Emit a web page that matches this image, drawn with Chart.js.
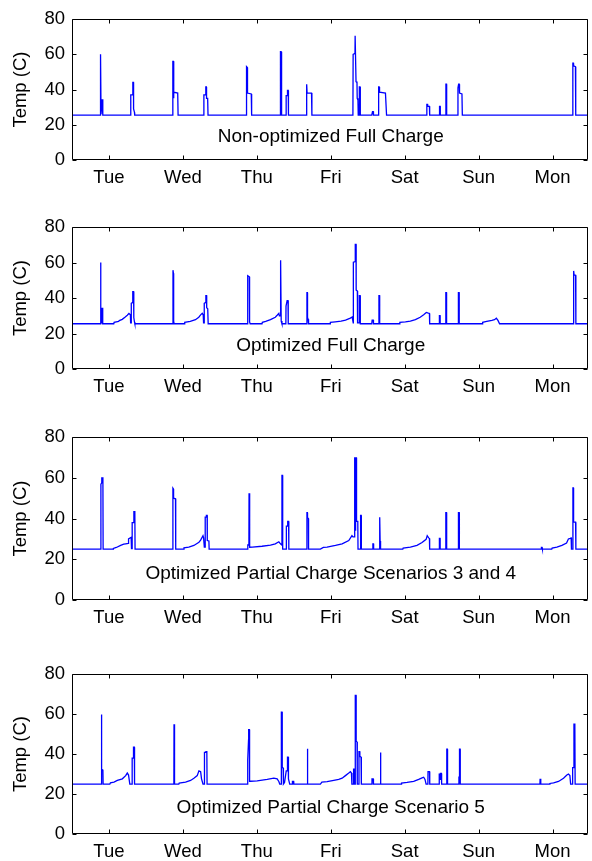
<!DOCTYPE html>
<html>
<head>
<meta charset="utf-8">
<script src="https://cdn.jsdelivr.net/npm/chart.js@4.4.1/dist/chart.umd.min.js"></script>
<style>
  html, body { margin: 0; padding: 0; background: #fff; overflow: hidden; }
  #wrap { position: relative; width: 592px; height: 861px; }
  canvas { position: absolute; left: 0; }
</style>
</head>
<body>
<div id="wrap">
  <canvas id="c1" width="592" height="204" style="top:1px"></canvas>
  <canvas id="c2" width="592" height="205" style="top:209px"></canvas>
  <canvas id="c3" width="592" height="226" style="top:419px"></canvas>
  <canvas id="c4" width="592" height="223" style="top:656px"></canvas>
</div>
<script>
const dayNames = ['Tue', 'Wed', 'Thu', 'Fri', 'Sat', 'Sun', 'Mon']
const dayTicks = [1, 2, 3, 4, 5, 6, 7]
const tempTicks = [0, 20, 40, 60, 80]
const captions = [
    'Non-optimized Full Charge',
    'Optimized Full Charge',
    'Optimized Partial Charge Scenarios 3 and 4',
    'Optimized Partial Charge Scenario 5'
]

// [day, temp C]
const nonOptFull = [
    [0.5, 25.5],
    [0.884, 25.5], [0.886, 60], [0.893, 26], [0.905, 26], [0.906, 34.5], [0.915, 34.5], [0.918, 25.5],
    [1.29, 25.5], [1.295, 37], [1.322, 37], [1.323, 44], [1.332, 44], [1.333, 29], [1.345, 27], [1.348, 25.5],
    [1.862, 25.5], [1.864, 56], [1.872, 56], [1.874, 35], [1.878, 38.5], [1.93, 38], [1.935, 25.5],
    [2.28, 25.5], [2.284, 37], [2.305, 37], [2.31, 41.5], [2.318, 41.5], [2.32, 35], [2.335, 35], [2.34, 25.5],
    [2.858, 25.5], [2.861, 53], [2.872, 52.5], [2.874, 38], [2.925, 37.5], [2.93, 25.5],
    [3.318, 25.5], [3.32, 61.5], [3.328, 61.5], [3.33, 27], [3.34, 25.5], [3.395, 25.5], [3.397, 36.5], [3.412, 36.5], [3.415, 39.5], [3.425, 39.5], [3.428, 25.5],
    [3.668, 25.5], [3.671, 43], [3.678, 43], [3.68, 38], [3.74, 38], [3.745, 25.5],
    [4.3, 25.5], [4.303, 60], [4.328, 60.5], [4.33, 70.5], [4.338, 70.5], [4.342, 44.5], [4.355, 44], [4.358, 35], [4.368, 34], [4.372, 25.5],
    [4.385, 25.5], [4.387, 41.5], [4.396, 41.5], [4.4, 25.5],
    [4.555, 25.5], [4.565, 27.5], [4.575, 27.5], [4.578, 25.5],
    [4.645, 25.5], [4.648, 41.5], [4.655, 41.5], [4.66, 38.5], [4.74, 38], [4.755, 25.5],
    [5.298, 25.5], [5.3, 31.5], [5.31, 31.5], [5.312, 30.5], [5.335, 30.5], [5.338, 25.5],
    [5.47, 25.5], [5.472, 30.5], [5.48, 30.5], [5.482, 25.5],
    [5.556, 25.5], [5.558, 43], [5.566, 43], [5.568, 25.5],
    [5.718, 25.5], [5.721, 41], [5.73, 43], [5.738, 43], [5.742, 38], [5.775, 37.5], [5.78, 25.5],
    [7.272, 25.5], [7.275, 55], [7.283, 55], [7.285, 53.5], [7.31, 53], [7.314, 25.5],
    [7.48, 25.5]
]

const optFull = [
    [0.5, 25.5],
    [0.884, 25.5], [0.886, 60], [0.892, 26], [0.904, 26], [0.906, 34.5], [0.914, 34.5], [0.917, 25.5],
    [1.065, 25.5], [1.07, 26.3], [1.13, 26.8], [1.14, 27.3], [1.18, 28], [1.22, 29.3], [1.248, 30.3], [1.27, 31.3], [1.29, 30.5], [1.293, 26], [1.3, 26],
    [1.302, 37], [1.32, 37.5], [1.322, 43.6], [1.333, 43.6], [1.336, 29], [1.345, 26.5], [1.35, 25.5],
    [1.864, 25.5], [1.866, 55.7], [1.872, 54], [1.875, 27], [1.882, 25.5],
    [2.02, 25.5], [2.025, 26.3], [2.1, 26.8], [2.17, 27.8], [2.215, 29.2], [2.24, 30.5], [2.262, 31.4], [2.275, 30.5], [2.28, 26], [2.286, 26],
    [2.289, 37], [2.308, 37.5], [2.311, 41.4], [2.32, 41.4], [2.322, 34.5], [2.336, 34], [2.342, 25.5],
    [2.874, 25.5], [2.877, 52.6], [2.899, 52], [2.902, 26.5], [2.91, 25.5],
    [3.07, 25.5], [3.075, 26.3], [3.12, 26.8], [3.185, 27.8], [3.25, 29.2], [3.275, 30.3], [3.298, 31.4], [3.305, 30], [3.315, 30],
    [3.318, 61.3], [3.326, 61.3], [3.33, 27], [3.34, 25.5], [3.393, 25.5], [3.395, 35.5], [3.408, 35.5], [3.41, 38.5], [3.422, 38.5], [3.425, 25.5],
    [3.675, 25.5], [3.678, 43], [3.684, 43], [3.686, 29], [3.695, 28], [3.7, 25.5],
    [3.99, 25.5], [3.995, 26.3], [4.06, 26.6], [4.14, 27], [4.2, 27.6], [4.265, 28.7], [4.29, 29.3], [4.3, 29.3], [4.304, 26],
    [4.306, 60.2], [4.33, 60.5], [4.332, 70.3], [4.342, 70.3], [4.344, 44.5], [4.36, 44], [4.363, 26], [4.385, 26],
    [4.387, 41.4], [4.396, 41.4], [4.4, 25.5],
    [4.555, 25.5], [4.56, 27.6], [4.575, 27.6], [4.578, 25.5],
    [4.65, 25.5], [4.652, 41.4], [4.66, 41.4], [4.662, 25.5],
    [4.93, 25.5], [4.935, 26.3], [5.01, 26.6], [5.077, 27], [5.145, 27.8], [5.21, 29.2], [5.257, 30.6], [5.293, 31.9], [5.32, 31.5], [5.335, 31.3], [5.338, 25.5],
    [5.468, 25.5], [5.47, 30.1], [5.478, 30.1], [5.48, 25.5],
    [5.555, 25.5], [5.557, 43.1], [5.565, 43.1], [5.567, 25.5],
    [5.724, 25.5], [5.727, 43.1], [5.736, 43.1], [5.738, 25.5],
    [6.05, 25.5], [6.055, 26.3], [6.11, 26.8], [6.18, 27.4], [6.215, 27.8], [6.24, 28.6], [6.262, 27.4], [6.284, 25.5],
    [7.279, 25.5], [7.282, 55.3], [7.29, 55.3], [7.292, 53], [7.312, 52.8], [7.316, 25.5],
    [7.48, 25.5]
]

const optPartial34 = [
    [0.5, 25],
    [0.888, 25], [0.891, 56.8], [0.9, 57.5], [0.903, 60], [0.918, 60], [0.921, 25],
    [1.058, 25], [1.06, 25.3], [1.1, 25.8], [1.158, 26.8], [1.2, 27.4], [1.226, 27.6], [1.262, 27.8], [1.265, 30], [1.3, 30.8], [1.305, 25.2], [1.312, 25.2],
    [1.314, 38], [1.335, 38], [1.337, 43.4], [1.35, 43.4], [1.353, 25],
    [1.862, 25], [1.865, 54.9], [1.872, 54.5], [1.874, 50], [1.9, 49.7], [1.903, 25],
    [2.012, 25], [2.015, 25.6], [2.08, 26], [2.149, 26.8], [2.217, 28.4], [2.24, 29.4], [2.272, 31.6], [2.28, 30.5], [2.29, 26], [2.3, 26],
    [2.302, 40.7], [2.315, 40.7], [2.318, 41.5], [2.328, 41.5], [2.33, 29.2], [2.352, 29], [2.355, 25],
    [2.875, 25], [2.878, 27], [2.893, 27], [2.895, 52.4], [2.902, 52.4], [2.904, 25.9],
    [2.94, 26], [3.07, 26.4], [3.185, 26.9], [3.25, 27.6], [3.298, 28.6], [3.32, 27.6], [3.338, 27],
    [3.34, 61.2], [3.348, 61.2], [3.35, 25], [3.398, 25], [3.4, 36.3], [3.415, 36.3], [3.418, 38.6], [3.43, 38.6], [3.433, 25],
    [3.675, 25], [3.678, 42.9], [3.684, 42.9], [3.686, 40.5], [3.697, 40], [3.7, 25],
    [3.86, 25], [3.9, 25.8], [3.95, 26], [4.064, 26.8], [4.154, 27.6], [4.244, 29.2], [4.287, 31.6], [4.3, 31], [4.322, 31],
    [4.324, 69.8], [4.33, 69.8], [4.332, 34], [4.337, 34], [4.339, 69.8], [4.347, 69.8], [4.349, 38.6], [4.366, 38.6], [4.369, 25],
    [4.402, 25], [4.404, 41.5], [4.412, 41.5], [4.414, 25],
    [4.568, 25], [4.57, 27.6], [4.578, 27.6], [4.58, 25],
    [4.657, 25], [4.659, 40.6], [4.666, 40.6], [4.668, 29], [4.673, 28.5], [4.675, 25],
    [4.975, 25], [4.98, 25.5], [5.077, 26], [5.167, 26.8], [5.235, 28.2], [5.29, 29.8], [5.305, 31.6], [5.325, 30.5], [5.335, 30.2], [5.338, 25],
    [5.468, 25], [5.47, 30.3], [5.478, 30.3], [5.48, 25],
    [5.555, 25], [5.557, 42.9], [5.566, 42.9], [5.568, 25],
    [5.722, 25], [5.725, 26.5], [5.728, 26.5], [5.73, 42.9], [5.738, 42.9], [5.74, 25],
    [6.845, 25], [6.85, 25.8], [6.858, 25.8], [6.863, 25],
    [6.99, 25], [6.995, 25.5], [7.059, 26], [7.127, 26.8], [7.19, 28], [7.215, 30], [7.24, 30.3], [7.252, 30.5], [7.256, 25], [7.274, 25],
    [7.276, 55], [7.283, 55], [7.285, 38.2], [7.312, 38.2], [7.316, 25],
    [7.48, 25]
]

const optPartial5 = [
    [0.5, 25],
    [0.893, 25], [0.895, 59.8], [0.902, 59.8], [0.904, 32.4], [0.918, 32], [0.921, 25],
    [1.012, 25], [1.02, 25.6], [1.068, 26], [1.113, 26.8], [1.181, 27.6], [1.226, 29.2], [1.248, 30.5], [1.265, 29.5], [1.282, 25], [1.312, 25],
    [1.314, 38], [1.33, 38], [1.332, 43.4], [1.343, 43.4], [1.346, 25],
    [1.878, 25], [1.88, 54.9], [1.886, 54.9], [1.888, 25],
    [1.945, 25], [1.95, 25.5], [2.036, 26], [2.104, 26.8], [2.149, 27.9], [2.194, 29.2], [2.217, 31.6], [2.24, 31.2], [2.252, 27.6], [2.272, 25], [2.29, 25],
    [2.292, 40.8], [2.31, 40.8], [2.312, 41.2], [2.324, 41.2], [2.327, 25],
    [2.875, 25], [2.877, 37], [2.888, 46.9], [2.89, 52.2], [2.9, 52.2], [2.902, 26.4],
    [2.915, 26.4], [3.005, 26.6], [3.14, 27.3], [3.23, 27.9], [3.275, 27.6], [3.298, 26.3], [3.31, 25], [3.33, 25],
    [3.332, 61], [3.341, 61], [3.344, 33.2], [3.356, 33], [3.36, 25], [3.375, 25.8], [3.398, 31.6], [3.413, 31.6], [3.415, 38.5], [3.424, 38.5], [3.428, 27.6], [3.445, 25],
    [3.48, 25], [3.482, 26.3], [3.498, 26.3], [3.5, 25],
    [3.68, 25], [3.682, 42.7], [3.688, 42.7], [3.69, 25],
    [3.86, 25], [3.88, 26], [3.951, 26.2], [4.041, 26.8], [4.108, 27.3], [4.154, 27.9], [4.199, 29.2], [4.244, 30.5], [4.266, 31.2], [4.28, 30.5], [4.286, 25], [4.307, 25],
    [4.309, 32.4], [4.316, 32.4], [4.318, 25], [4.33, 25], [4.332, 69.4], [4.342, 69.4], [4.344, 46.4], [4.356, 46], [4.359, 25], [4.38, 25],
    [4.382, 41.2], [4.392, 41.2], [4.394, 38.8], [4.41, 38.5], [4.414, 25],
    [4.556, 25], [4.558, 27.6], [4.574, 27.6], [4.578, 25],
    [4.668, 25], [4.67, 40.8], [4.677, 40.8], [4.679, 25],
    [4.953, 25], [4.958, 25.5], [5.032, 25.8], [5.122, 26.3], [5.19, 27.3], [5.235, 28.1], [5.257, 28.4], [5.275, 27.3], [5.29, 25], [5.314, 25],
    [5.316, 31.2], [5.336, 31.2], [5.339, 25],
    [5.466, 25], [5.468, 30], [5.478, 30], [5.48, 27], [5.485, 27], [5.487, 30.3], [5.497, 30.3], [5.5, 25],
    [5.568, 25], [5.57, 42.4], [5.578, 42.4], [5.58, 25],
    [5.732, 25], [5.734, 28.4], [5.74, 28.4], [5.742, 42.4], [5.75, 42.4], [5.752, 25],
    [6.83, 25], [6.832, 27.6], [6.84, 27.6], [6.842, 25],
    [6.958, 25], [6.965, 25.3], [7.014, 25.6], [7.081, 26.3], [7.149, 27.9], [7.194, 29.5], [7.216, 30], [7.235, 29.3], [7.245, 25], [7.27, 25],
    [7.272, 33.2], [7.288, 33.2], [7.29, 54.9], [7.302, 54.9], [7.306, 25],
    [7.48, 25]
]

const fontFamily = '"Liberation Sans", Arial, Helvetica, sans-serif'
Chart.defaults.font.family = fontFamily
Chart.defaults.font.size = 18.5
Chart.defaults.color = '#000'

// matlab style frame: box all round, short ticks pointing in, caption inside the axes
const matlabBox = {
    id: 'matlabBox',
    afterDatasetsDraw(chart, args, opts) {
        const {ctx, chartArea: a, scales: {x, y}} = chart
        const L = Math.round(a.left) + 0.5
        const R = Math.round(a.right) - 0.5
        const T = Math.round(a.top) + 0.5
        const B = Math.round(a.bottom) - 0.5
        const tl = 4
        ctx.save()
        ctx.strokeStyle = '#000'
        ctx.lineWidth = 1
        ctx.beginPath()
        ctx.rect(L, T, R - L, B - T)
        dayTicks.forEach(v => {
            const px = Math.round(x.getPixelForValue(v)) + 0.5
            ctx.moveTo(px, B); ctx.lineTo(px, B - tl)
            ctx.moveTo(px, T); ctx.lineTo(px, T + tl)
        })
        tempTicks.forEach(v => {
            const py = Math.round(y.getPixelForValue(v)) + 0.5
            ctx.moveTo(L, py); ctx.lineTo(L + tl, py)
            ctx.moveTo(R, py); ctx.lineTo(R - tl, py)
        })
        ctx.stroke()

        ctx.fillStyle = '#000'
        ctx.font = '19px ' + fontFamily
        ctx.textAlign = 'center'
        ctx.textBaseline = 'middle'
        ctx.fillText(opts.caption, x.getPixelForValue(opts.at[0]), y.getPixelForValue(opts.at[1]))
        ctx.restore()
    }
}

function makeChart(id, series, caption) {
    return new Chart(document.getElementById(id), {
        type: 'line',
        data: {
            datasets: [{
                data: series.map(p => ({x: p[0], y: p[1]})),
                borderColor: '#0000ff',
                borderWidth: 1.3,
                pointRadius: 0,
                tension: 0,
                fill: false,
            }]
        },
        options: {
            responsive: false,
            animation: false,
            events: [],
            layout: {
                padding: {top: 12, right: 4, left: 0, bottom: 0}
            },
            plugins: {
                legend: {display: false},
                tooltip: {enabled: false},
                matlabBox: {caption: caption, at: [4.0, 13]},
            },
            scales: {
                x: {
                    type: 'linear',
                    min: 0.5,
                    max: 7.48,
                    afterBuildTicks: s => { s.ticks = dayTicks.map(v => ({value: v})) },
                    afterFit: s => { s.height = 45 },
                    ticks: {
                        autoSkip: false,
                        maxRotation: 0,
                        padding: 7,
                        callback: (v, i) => dayNames[i],
                    },
                    grid: {display: false, drawTicks: false},
                    border: {display: false},
                },
                y: {
                    min: 0,
                    max: 80,
                    afterBuildTicks: s => { s.ticks = tempTicks.map(v => ({value: v})) },
                    afterFit: s => { s.width = 72 },
                    ticks: {padding: 7},
                    grid: {display: false, drawTicks: false},
                    border: {display: false},
                    title: {
                        display: true,
                        text: 'Temp (C)',
                        padding: {top: 10, bottom: 0},
                    },
                },
            }
        },
        plugins: [matlabBox]
    })
}

makeChart('c1', nonOptFull, captions[0])
makeChart('c2', optFull, captions[1])
makeChart('c3', optPartial34, captions[2])
makeChart('c4', optPartial5, captions[3])
</script>
</body>
</html>
